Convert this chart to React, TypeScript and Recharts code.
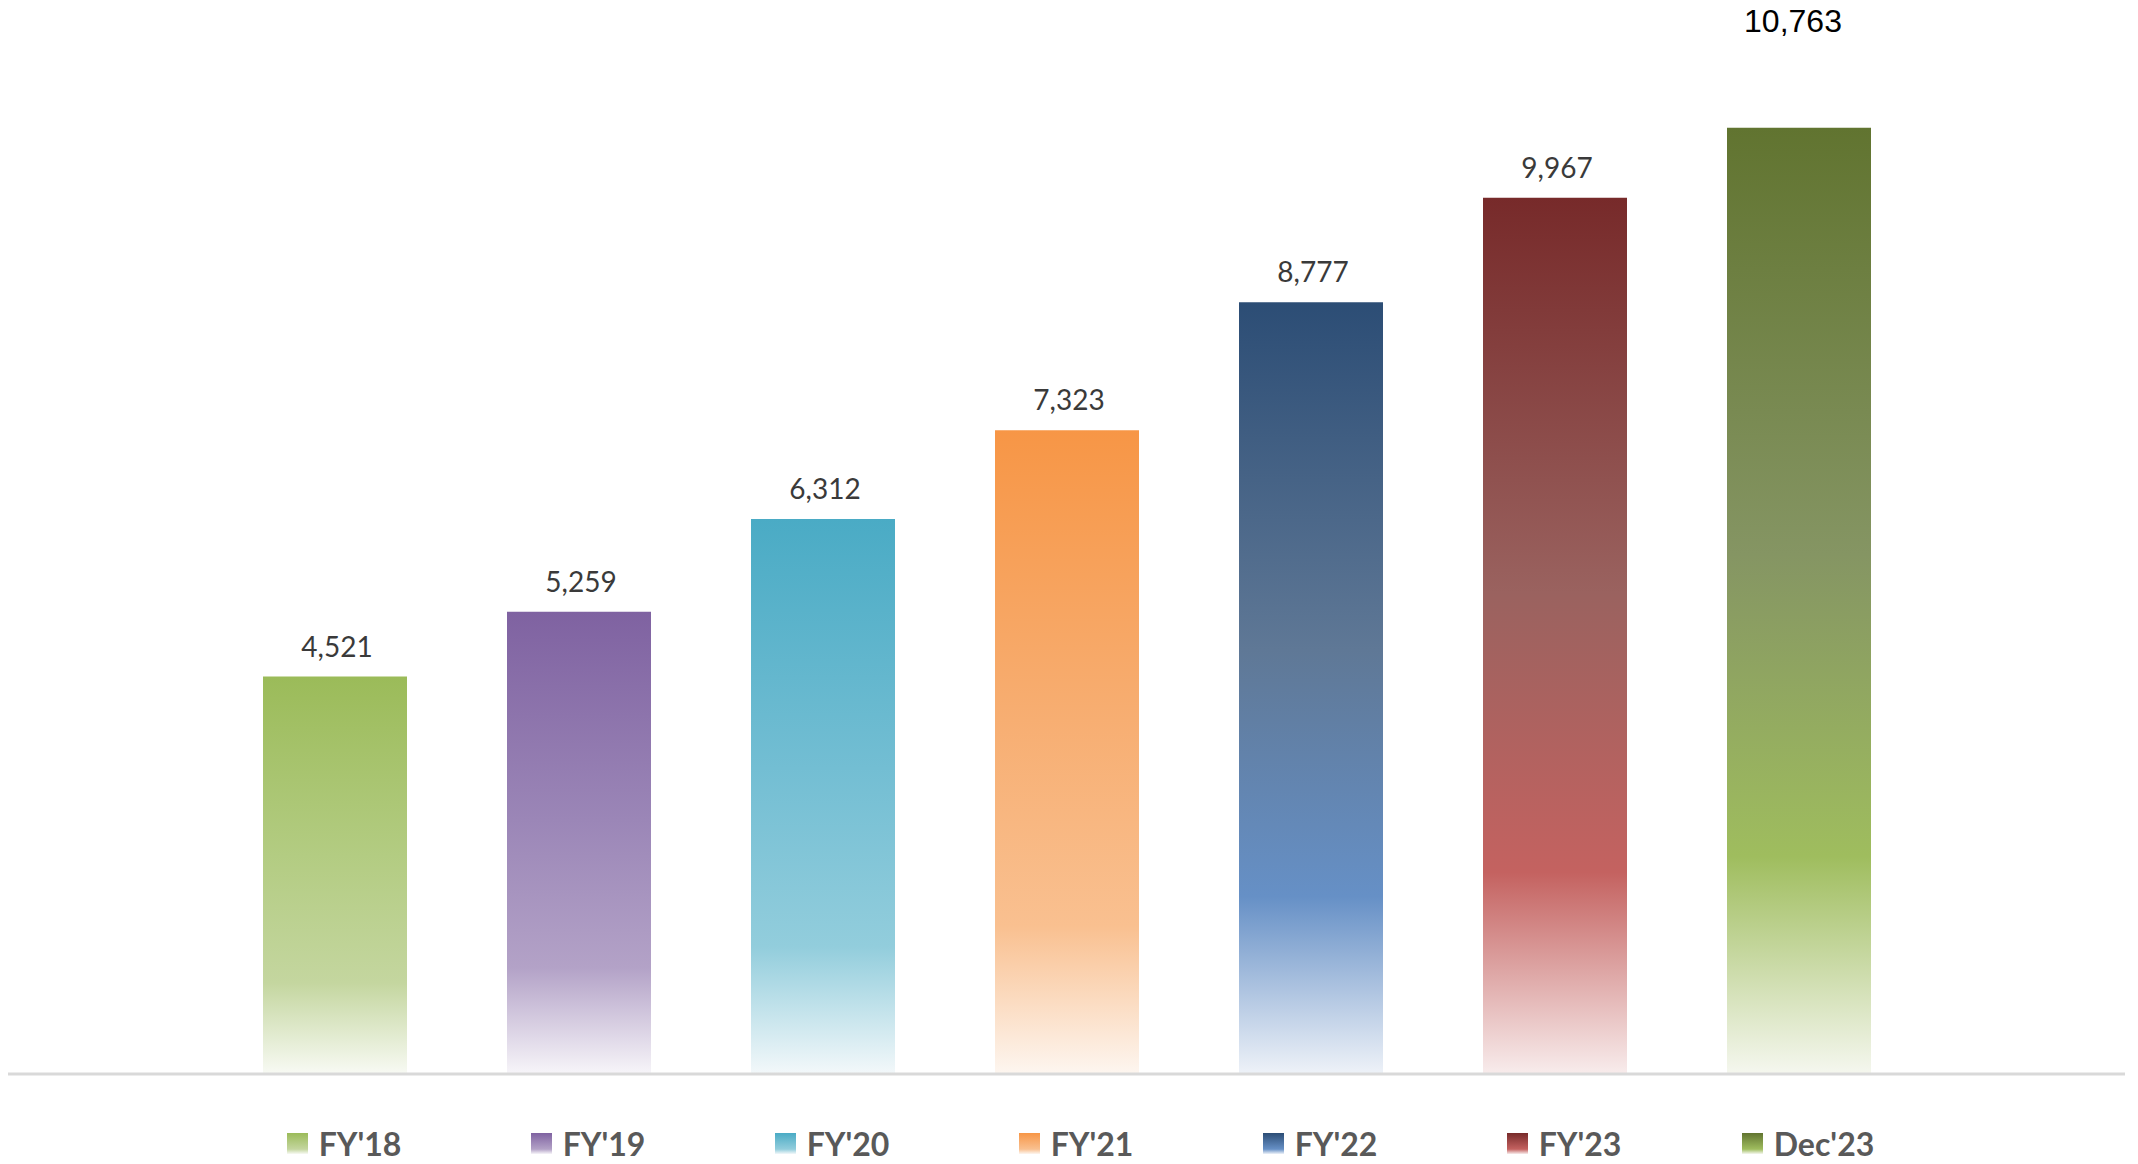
import { Bar, BarChart, Cell, LabelList, Legend, XAxis, YAxis } from 'recharts';

const categories = ["FY'18", "FY'19", "FY'20", "FY'21", "FY'22", "FY'23", "Dec'23"];
const values = [4521, 5259, 6312, 7323, 8777, 9967, 10763];

// top, middle, bright (at ~77%), bottom fade
const gradients = [
  ['#9BBB59', '#B3CC82', '#C4D69F', '#F8FAF4'],
  ['#7F62A1', '#9B86B7', '#B3A2C7', '#F7F5F9'],
  ['#4AABC5', '#73BED3', '#92CDDC', '#F3F8FA'],
  ['#F79646', '#F7AE72', '#F9C090', '#FDF6F0'],
  ['#2C4D75', '#5F7896', '#6690C6', '#EEF2F8'],
  ['#772A2A', '#9A625F', '#C46260', '#F8ECEC'],
  ['#617430', '#859563', '#9FBD5E', '#F5F7EF'],
];

const data = categories.map((name, i) => ({ name, value: values[i] }));

const fmt = (v: number) => v.toLocaleString('en-US');

function ValueLabel(props: any) {
  const { x, y, width, value, index } = props;
  const cx = Number(x) + Number(width) / 2;
  if (index === values.length - 1) {
    return (
      <text x={cx - 6} y={Number(y) - 96} textAnchor="middle" fontFamily="Liberation Sans, Arial, sans-serif" fontSize={32} fill="#000">
        {fmt(Number(value))}
      </text>
    );
  }
  return (
    <text x={cx + 2} y={Number(y) - 20} textAnchor="middle" fontFamily="Lato, sans-serif" fontSize={28} fill="#3A3A3A">
      {fmt(Number(value))}
    </text>
  );
}

function LegendContent() {
  return (
    <div style={{ display: 'flex', paddingLeft: 212 }}>
      {categories.map((c, i) => (
        <div
          key={c}
          style={{ width: 244, display: 'flex', justifyContent: 'center', alignItems: 'center', paddingLeft: 4, boxSizing: 'border-box' }}
        >
          <span
            style={{
              display: 'inline-block',
              width: 21,
              height: 21,
              marginRight: 11,
              background: `linear-gradient(${gradients[i][0]}, ${gradients[i][2]} 77%, ${gradients[i][3]})`,
            }}
          />
          <span style={{ fontFamily: 'Lato, sans-serif', fontWeight: 700, fontSize: 32, color: '#595959' }}>{c}</span>
        </div>
      ))}
    </div>
  );
}

export default function App() {
  return (
    <div style={{ position: 'absolute', left: 0, top: 0, width: 2138, height: 1164, background: '#fff' }}>
      <BarChart width={2138} height={1164} data={data} margin={{ top: 19, right: 13, bottom: 0, left: 8 }} barSize={144}>
        <defs>
          {gradients.map((g, i) => (
            <linearGradient key={i} id={`grad-${i}`} x1="0" y1="0" x2="0" y2="1">
              <stop offset="0%" stopColor={g[0]} />
              <stop offset="45%" stopColor={g[1]} />
              <stop offset="77%" stopColor={g[2]} />
              <stop offset="100%" stopColor={g[3]} />
            </linearGradient>
          ))}
        </defs>
        <XAxis
          dataKey="name"
          padding={{ left: 205, right: 204 }}
          tick={false}
          tickLine={false}
          axisLine={{ stroke: '#D9D9D9', strokeWidth: 3 }}
          height={50}
        />
        <YAxis hide domain={[0, 12000]} />
        <Legend content={<LegendContent />} verticalAlign="bottom" height={40} />
        <Bar dataKey="value" isAnimationActive={false}>
          {data.map((d, i) => (
            <Cell key={d.name} fill={`url(#grad-${i})`} />
          ))}
          <LabelList dataKey="value" content={<ValueLabel />} />
        </Bar>
      </BarChart>
    </div>
  );
}
